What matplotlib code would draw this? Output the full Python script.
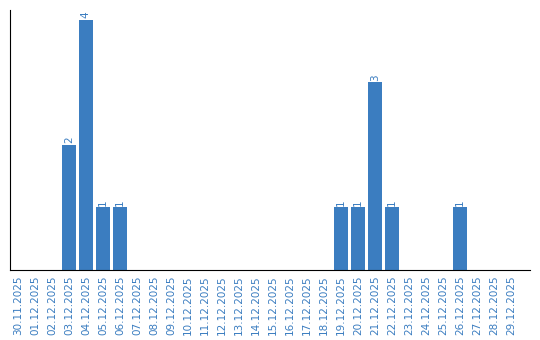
import matplotlib
matplotlib.use("Agg")
import matplotlib.pyplot as plt

dates = ["30.11.2025"] + ["%02d.12.2025" % d for d in range(1, 30)]
counts = [0, 0, 0, 2, 4, 1, 1, 0, 0, 0,
          0, 0, 0, 0, 0, 0, 0, 0, 0, 1,
          1, 3, 1, 0, 0, 0, 1, 0, 0, 0]

blue = "#3b7dc0"

fig = plt.figure(figsize=(5.4, 3.4), dpi=100)
ax = fig.add_axes([0.0194, 0.206, 0.963, 0.765])

x = range(len(dates))
bars = ax.bar(x, counts, width=0.82, color=blue)
for xi, c in zip(x, counts):
    if c > 0:
        ax.text(xi, c + 0.03, str(c), rotation=90, ha="center", va="bottom",
                color=blue, fontsize=7.5)

ax.set_xlim(-0.44, 30.16)
ax.set_ylim(0, 4.16)
ax.set_xticks(list(x))
ax.set_xticklabels(dates, rotation=90, color=blue, fontsize=7.5)
ax.tick_params(axis="x", length=0, pad=4)
ax.set_yticks([])
ax.spines["top"].set_visible(False)
ax.spines["right"].set_visible(False)

fig.savefig("out.png", dpi=100)
